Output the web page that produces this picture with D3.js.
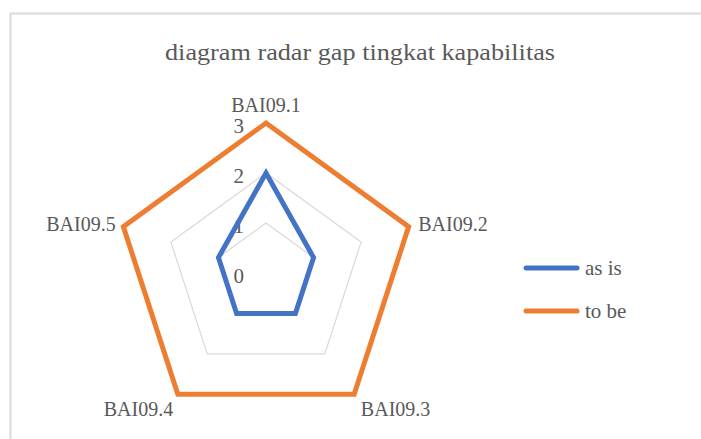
<!DOCTYPE html>
<html>
<head>
<meta charset="utf-8">
<script src="https://cdn.jsdelivr.net/npm/d3@7"></script>
<style>
  html, body { margin: 0; padding: 0; background: #fff; }
</style>
</head>
<body>
<div id="chart"></div>
<script>
const categories = ["BAI09.1", "BAI09.2", "BAI09.3", "BAI09.4", "BAI09.5"];
const asIs = [2, 1, 1, 1, 1];
const toBe = [3, 3, 3, 3, 3];
const tickValues = [0, 1, 2, 3];
const seriesNames = ["as is", "to be"];
const seriesColors = ["#4472C4", "#ED7D31"];

(function () {
  const W = 701, H = 439;
  const cx = 266, cy = 273, R = 150;
  const font = "'Liberation Serif', 'Times New Roman', serif";
  const textColor = "#595959";

  const svg = d3.select("#chart").append("svg")
    .attr("width", W)
    .attr("height", H)
    .attr("font-family", font);

  // chart area frame
  svg.append("rect")
    .attr("x", 10.5).attr("y", 13.5)
    .attr("width", W).attr("height", H)
    .attr("fill", "#fff")
    .attr("stroke", "#d9d9d9")
    .attr("stroke-width", 2);

  svg.append("text")
    .attr("x", 360)
    .attr("y", 60)
    .attr("text-anchor", "middle")
    .attr("textLength", 390)
    .attr("lengthAdjust", "spacingAndGlyphs")
    .attr("font-size", 23)
    .attr("fill", textColor)
    .text("diagram radar gap tingkat kapabilitas");

  const r = d3.scaleLinear().domain([0, 3]).range([0, R]);
  const step = 2 * Math.PI / categories.length;
  const a = c => categories.indexOf(c) * step;

  const plot = svg.append("g").attr("transform", `translate(${cx},${cy})`);

  const radial = d3.lineRadial()
    .angle(d => a(d.cat))
    .radius(d => r(d.v))
    .curve(d3.curveLinearClosed);

  // grid rings
  plot.selectAll(".ring")
    .data(tickValues.filter(t => t > 0))
    .join("path")
    .attr("class", "ring")
    .attr("fill", "none")
    .attr("stroke", "#d9d9d9")
    .attr("stroke-width", 1.2)
    .attr("d", t => radial(categories.map(c => ({ cat: c, v: t }))));

  // tick labels
  plot.selectAll(".tick")
    .data(tickValues)
    .join("text")
    .attr("class", "tick")
    .attr("x", -22)
    .attr("y", t => -r(t) + 10)
    .attr("text-anchor", "end")
    .attr("font-size", 21)
    .attr("fill", textColor)
    .text(d => d);

  const series = [asIs, toBe].map((vals, i) => ({
    name: seriesNames[i],
    color: seriesColors[i],
    points: categories.map((c, j) => ({ cat: c, v: vals[j] }))
  }));

  plot.selectAll(".series")
    .data(series)
    .join("path")
    .attr("class", "series")
    .attr("fill", "none")
    .attr("stroke", d => d.color)
    .attr("stroke-width", 5)
    .attr("stroke-linejoin", "miter")
    .attr("d", d => radial(d.points));

  // category labels
  const labelPos = categories.map(c => {
    const ang = a(c);
    const x = Math.sin(ang) * (R + 8);
    const y = -Math.cos(ang) * (R + 8);
    let anchor = "middle", dy = 6;
    if (Math.abs(x) < 1) { dy = -3; }
    else if (y < 0) { anchor = x > 0 ? "start" : "end"; dy = 7; }
    else { anchor = x > 0 ? "start" : "end"; dy = 15; }
    return { c, x, y, anchor, dy };
  });

  plot.selectAll(".cat")
    .data(labelPos)
    .join("text")
    .attr("class", "cat")
    .attr("x", d => d.x + (d.anchor === "start" ? 2 : 0))
    .attr("y", d => d.y + d.dy)
    .attr("text-anchor", d => d.anchor)
    .attr("font-size", 20)
    .attr("fill", textColor)
    .text(d => d.c);

  // legend
  const legend = svg.append("g").attr("transform", "translate(524,268)");
  const item = legend.selectAll("g")
    .data(series)
    .join("g")
    .attr("transform", (d, i) => `translate(0,${i * 43})`);
  item.append("line")
    .attr("x1", 2).attr("x2", 53)
    .attr("stroke", d => d.color)
    .attr("stroke-width", 5)
    .attr("stroke-linecap", "round");
  item.append("text")
    .attr("x", 61)
    .attr("y", 7)
    .attr("font-size", 21)
    .attr("fill", textColor)
    .text(d => d.name);
})();
</script>
</body>
</html>
